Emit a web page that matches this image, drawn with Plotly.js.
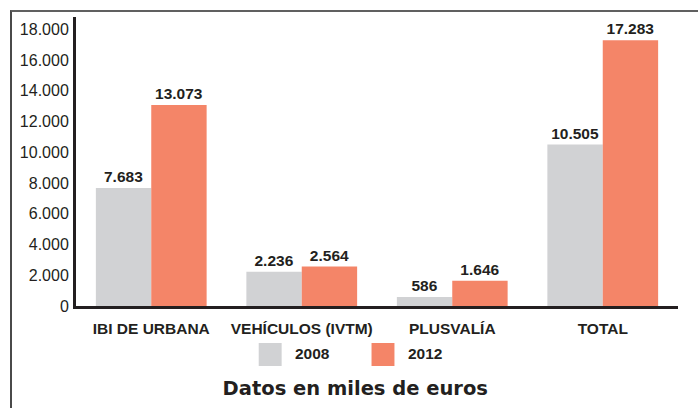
<!DOCTYPE html>
<html>
<head>
<meta charset="utf-8">
<script src="https://cdn.plot.ly/plotly-3.0.1.min.js"></script>
<style>
  html, body { margin: 0; padding: 0; background: #fff; }
  #wrap { position: relative; width: 698px; height: 408px; overflow: hidden; }
  #chart { position: absolute; left: 0; top: 0; width: 698px; height: 408px; }
  #frame { position: absolute; left: 10px; top: 10px; width: 720px; height: 420px;
           border-top: 2px solid #606060; border-left: 2px solid #4a4a4a; pointer-events: none; }
</style>
</head>
<body>
<div id="wrap">
  <div id="chart"></div>
  <div id="frame"></div>
</div>
<script>
// ---- data ----
const categories = ["IBI DE URBANA", "VEHÍCULOS (IVTM)", "PLUSVALÍA", "TOTAL"];
const values2008 = [7683, 2236, 586, 10505];
const values2012 = [13073, 2564, 1646, 17283];
const seriesNames = ["2008", "2012"];
const yTickValues = [0, 2000, 4000, 6000, 8000, 10000, 12000, 14000, 16000, 18000];
const chartTitle = "Datos en miles de euros";

// ---- styles ----
const colorGray = "#d1d2d4";
const colorOrange = "#f48568";
const textColor = "#231f20";
const sansFont = "Liberation Sans, Arial, sans-serif";

const traces = [
  {
    type: "bar", name: seriesNames[0], x: categories, y: values2008,
    marker: { color: colorGray },
    texttemplate: "%{y:,}", textposition: "outside", cliponaxis: false,
    constraintext: "none",
    outsidetextfont: { family: sansFont, size: 15.5, color: textColor, weight: "bold" },
    hoverinfo: "skip"
  },
  {
    type: "bar", name: seriesNames[1], x: categories, y: values2012,
    marker: { color: colorOrange },
    texttemplate: "%{y:,}", textposition: "outside", cliponaxis: false,
    constraintext: "none",
    outsidetextfont: { family: sansFont, size: 15.5, color: textColor, weight: "bold" },
    hoverinfo: "skip"
  }
];

// legend swatch geometry (paper coordinates, not data)
const legendY0 = -0.2076, legendY1 = -0.128;
const layout = {
  width: 698, height: 408,
  margin: { l: 76, r: 20, t: 17, b: 102 },
  paper_bgcolor: "#ffffff", plot_bgcolor: "#ffffff",
  separators: ",.",
  barmode: "group", bargap: 0.264, bargroupgap: 0,
  showlegend: false,
  font: { family: sansFont, color: textColor },
  title: {
    text: chartTitle,
    font: { family: "DejaVu Sans", size: 19.5, color: textColor, weight: "bold" },
    xref: "container", yref: "container", x: 0.509, y: 0.049,
    xanchor: "center", yanchor: "middle"
  },
  xaxis: {
    type: "category", range: [-0.5, 3.5],
    showline: true, linewidth: 3, linecolor: textColor,
    ticks: "", showgrid: false, zeroline: false,
    tickfont: { family: sansFont, size: 15.5, color: textColor, weight: "bold" },
    ticklabelstandoff: 6
  },
  yaxis: {
    range: [0, 18800], tickvals: yTickValues, tickformat: ",", separatethousands: true,
    showline: true, linewidth: 3, linecolor: textColor,
    ticks: "", showgrid: false, zeroline: false,
    tickfont: { family: sansFont, size: 16, color: textColor },
    ticklabelstandoff: 1
  },
  shapes: [
    { type: "rect", xref: "paper", yref: "paper", x0: 0.3035, x1: 0.3416, y0: legendY0, y1: legendY1,
      fillcolor: colorGray, line: { width: 0 } },
    { type: "rect", xref: "paper", yref: "paper", x0: 0.4909, x1: 0.529, y0: legendY0, y1: legendY1,
      fillcolor: colorOrange, line: { width: 0 } }
  ],
  annotations: [
    { xref: "paper", yref: "paper", x: 0.3599, y: -0.166, xanchor: "left", yanchor: "middle",
      text: seriesNames[0], showarrow: false,
      font: { family: sansFont, size: 15.5, color: textColor, weight: "bold" } },
    { xref: "paper", yref: "paper", x: 0.5489, y: -0.166, xanchor: "left", yanchor: "middle",
      text: seriesNames[1], showarrow: false,
      font: { family: sansFont, size: 15.5, color: textColor, weight: "bold" } }
  ]
};

Plotly.newPlot("chart", traces, layout, { displayModeBar: false, staticPlot: true });
</script>
</body>
</html>
